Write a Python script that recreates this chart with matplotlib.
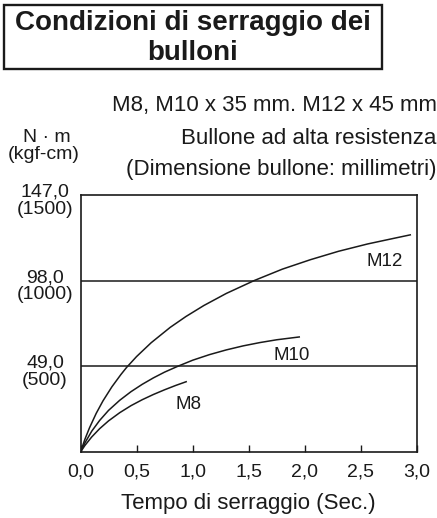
import matplotlib
matplotlib.use("Agg")
import matplotlib.pyplot as plt
from matplotlib.patches import Rectangle

plt.rcParams['font.family'] = ['Liberation Sans', 'DejaVu Sans']

# ---- data ----
m12_t = [0, 0.04, 0.08, 0.14, 0.2, 0.28, 0.36, 0.41, 0.5, 0.63, 0.8, 0.94, 1.1, 1.3,
         1.55, 1.8, 2.05, 2.3, 2.56, 2.8, 2.94]
m12_v = [0, 7.4, 13.8, 22.1, 29.2, 37.3, 44.3, 48.3, 54.6, 62.5, 71.3, 77.5, 83.8, 90.7,
         98.1, 104.6, 110.0, 114.8, 119.0, 122.3, 124.2]

m10_t = [0, 0.04, 0.1, 0.17, 0.25, 0.35, 0.45, 0.55, 0.65, 0.75, 0.87, 1.0, 1.15, 1.3,
         1.45, 1.6, 1.75, 1.95]
m10_v = [0, 5.3, 11.9, 18.0, 23.8, 29.6, 34.5, 38.7, 42.4, 45.7, 49.1, 52.5, 55.7, 58.4,
         60.7, 62.6, 64.2, 65.8]

m8_t = [0, 0.04, 0.1, 0.17, 0.25, 0.35, 0.45, 0.55, 0.65, 0.75, 0.85, 0.942]
m8_v = [0, 3.8, 8.6, 13.3, 17.8, 22.5, 26.5, 29.9, 32.9, 35.6, 38.1, 40.2]

ref_values = [49.0, 98.0]
ytick_values = [49.0, 98.0, 147.0]
ytick_labels = ["49,0\n(500)", "98,0\n(1000)", "147,0\n(1500)"]
xtick_values = [0.0, 0.5, 1.0, 1.5, 2.0, 2.5, 3.0]
xtick_labels = ["0,0", "0,5", "1,0", "1,5", "2,0", "2,5", "3,0"]

curve_labels = [("M12", 2.71, 108.7), ("M10", 1.88, 55.4), ("M8", 0.96, 26.9)]

title = "Condizioni di serraggio dei\nbulloni"
subtitle_lines = ["M8, M10 x 35 mm. M12 x 45 mm",
                  "Bullone ad alta resistenza",
                  "(Dimensione bullone: millimetri)"]
xlabel = "Tempo di serraggio (Sec.)"

# ---- figure ----
W, H = 437, 518
fig = plt.figure(figsize=(W / 100, H / 100), dpi=100)
fig.patch.set_facecolor('white')

def fx(px):
    return px / W

def fy(py):
    return 1 - py / H

ink = '#1a1a1a'
ax_l, ax_r, ax_t, ax_b = 80.5, 417, 195, 452
ax = fig.add_axes([fx(ax_l), fy(ax_b), fx(ax_r - ax_l), (ax_b - ax_t) / H])
ax.set_xlim(0, 3.0)
ax.set_ylim(0, 147.0)

lw = 1.1
ax.plot(m12_t, m12_v, color=ink, lw=lw)
ax.plot(m10_t, m10_v, color=ink, lw=lw)
ax.plot(m8_t, m8_v, color=ink, lw=lw)
for v in ref_values:
    ax.axhline(v, color=ink, lw=1.1)

for name, t, v in curve_labels:
    ax.text(t, v, name, fontsize=13.5, ha='center', va='center', color=ink)

for s in ax.spines.values():
    s.set_color(ink)
    s.set_linewidth(1.2)

ax.set_xticks(xtick_values)
ax.set_xticklabels(xtick_labels, fontsize=14, color=ink)
ax.tick_params(axis='x', direction='in', length=5, width=1.0, pad=8, color=ink)
ax.set_yticks([])
ax.set_xlabel(xlabel, fontsize=16, color=ink, labelpad=9)

for v, lab in zip(ytick_values, ytick_labels):
    ax.annotate(lab, xy=(0, v), xycoords=('axes fraction', 'data'),
                xytext=(-25.5, -4), textcoords='offset points',
                ha='center', va='center', fontsize=14, multialignment='center',
                linespacing=1.0, color=ink, annotation_clip=False)

fig.text(fx(47), fy(138), "N · m", fontsize=14, ha='center', va='center', color=ink)
fig.text(fx(44), fy(154), "(kgf-cm)", fontsize=14, ha='center', va='center', color=ink)

# subtitle lines
for txt, py in zip(subtitle_lines, [105, 138, 170]):
    fig.text(fx(436.5), fy(py), txt, fontsize=16, ha='right', va='center', color=ink)

# title box
fig.patches.append(Rectangle((fx(4), fy(69)), fx(378), 64 / H, transform=fig.transFigure,
                             fill=False, edgecolor=ink, lw=1.7))
fig.text(fx(193), fy(38), title, fontsize=20, fontweight='bold', ha='center', va='center',
         multialignment='center', linespacing=1.25, color=ink)

fig.savefig("out.png", dpi=100, facecolor='white')
